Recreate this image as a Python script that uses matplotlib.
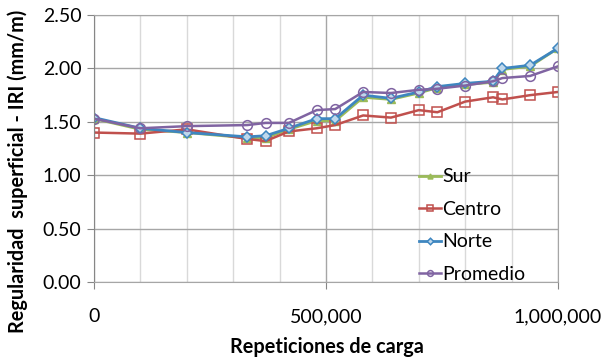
import matplotlib

matplotlib.use("Agg")
import matplotlib.pyplot as plt
from matplotlib.ticker import FuncFormatter, MultipleLocator

# repeticiones de carga y IRI por tramo
reps = [0, 100000, 200000, 330000, 370000, 420000, 480000, 520000, 580000,
        640000, 700000, 740000, 800000, 860000, 880000, 940000, 1000000]
sur = [1.53, 1.43, 1.40, 1.35, 1.35, 1.43, 1.51, 1.51, 1.73,
       1.71, 1.77, 1.82, 1.85, 1.87, 1.99, 2.02, 2.19]
centro = [1.40, 1.39, 1.43, 1.34, 1.32, 1.41, 1.44, 1.47, 1.56,
          1.54, 1.61, 1.59, 1.69, 1.73, 1.71, 1.75, 1.78]
norte = [1.54, 1.44, 1.40, 1.36, 1.37, 1.44, 1.53, 1.53, 1.75,
         1.72, 1.78, 1.83, 1.86, 1.88, 2.00, 2.03, 2.19]
promedio = [1.53, 1.44, 1.46, 1.47, 1.49, 1.49, 1.61, 1.62, 1.78,
            1.77, 1.80, 1.81, 1.84, 1.88, 1.91, 1.93, 2.02]

plt.rcParams["font.family"] = ["Lato", "DejaVu Sans"]

fig = plt.figure(figsize=(6.02, 3.58), dpi=100)
ax = fig.add_axes([0.156, 0.212, 0.771, 0.746])

ax.plot(reps, sur, color="#9BBB59", lw=2, marker="^", ms=6,
        mfc="#9BBB59", mec="#9BBB59", label="Sur")
ax.plot(reps, centro, color="#C0504D", lw=1.8, marker="s", ms=6.5,
        mfc="none", mec="#C0504D", mew=1.1, label="Centro")
ax.plot(reps, norte, color="#3E86C0", lw=2, marker="D", ms=5.5,
        mfc="#BFD8EC", mec="#3E86C0", mew=1.1, label="Norte")
ax.plot(reps, promedio, color="#8064A2", lw=1.8, marker="o", ms=7,
        mfc="none", mec="#8064A2", mew=1.1, label="Promedio")

ax.set_xlim(0, 1000000)
ax.set_ylim(0, 2.5)
ax.xaxis.set_major_locator(MultipleLocator(500000))
ax.xaxis.set_minor_locator(MultipleLocator(100000))
ax.yaxis.set_major_locator(MultipleLocator(0.5))
ax.xaxis.set_major_formatter(FuncFormatter(lambda v, p: f"{int(v):,}"))
ax.yaxis.set_major_formatter(FuncFormatter(lambda v, p: f"{v:.2f}"))

ax.grid(which="major", color="#A6A6A6", lw=1)
ax.grid(which="minor", axis="x", color="#D9D9D9", lw=1)
ax.set_axisbelow(True)
for s in ax.spines.values():
    s.set_color("#A6A6A6")
ax.spines["left"].set_color("#868686")
ax.tick_params(which="major", color="#868686", length=5, labelsize=14)
ax.tick_params(which="minor", length=0)
ax.tick_params(axis="x", pad=14)
ax.tick_params(axis="y", pad=4)

fig.text(0.543, 0.03, "Repeticiones de carga", ha="center", va="center",
         fontsize=14.3, fontweight="bold")
fig.text(0.03, 0.52, "Regularidad  superficial - IRI (mm/m)", ha="center",
         va="center", rotation=90, fontsize=14.3, fontweight="bold")

ax.legend(loc="upper left", bbox_to_anchor=(0.684, 0.455), frameon=False,
          fontsize=14, handlelength=1.1, handletextpad=0.1,
          labelspacing=0.8, markerscale=0.6, borderaxespad=0)

fig.savefig("out.png", dpi=100)
